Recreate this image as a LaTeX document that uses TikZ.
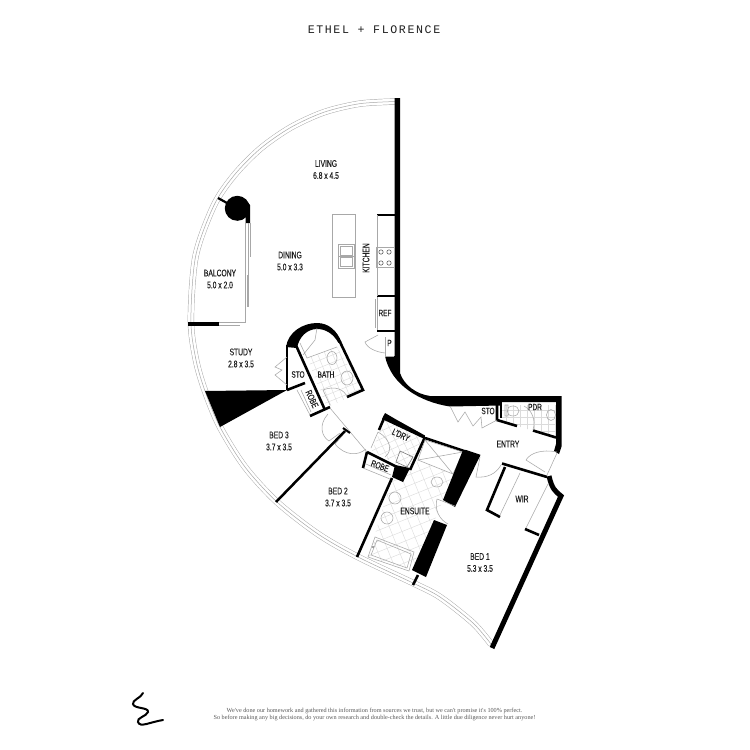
\documentclass[tikz,border=0pt]{standalone}
\usepackage{fontspec}
\setmainfont[FakeStretch=0.7,FakeBold=0.15]{Liberation Sans}
\newfontfamily\titlefont[LetterSpace=14]{Liberation Mono}
\newfontfamily\footfont{Liberation Serif}
\definecolor{fine}{gray}{0.66}
\definecolor{tile}{gray}{0.86}
\definecolor{inktext}{gray}{0.12}
\tikzset{
 wall/.style={draw=black,line width=2.6pt},
 solid wall/.style={fill=black,draw=none},
 fine line/.style={draw=fine,line width=0.55pt},
 tile line/.style={draw=tile,line width=0.4pt},
 room/.style={font=\fontsize{9.6}{12}\selectfont,text=inktext,align=center,inner sep=0pt},
 small room/.style={font=\fontsize{9.2}{11}\selectfont,text=inktext,align=center,inner sep=0pt},
}
\begin{document}
\begin{tikzpicture}[x=1pt,y=-1pt]
\useasboundingbox (0,0) rectangle (750,750);
\fill[white] (0,0) rectangle (750,750);

% tiled floors
\begin{scope}
\clip (392,478) -- (408,472) -- (418,460) -- (453,474) -- (443,500) -- (435,520) -- (412,570) -- (368,557) -- cycle;
\begin{scope}[shift={(400,500)},rotate=22]
\foreach \k in {-8,...,8} {\draw[tile line] (\k*10,-100) -- (\k*10,100); \draw[tile line] (-100,\k*10) -- (100,\k*10);}
\end{scope}
\end{scope}
\begin{scope}
\clip (307,358) -- (337,347) -- (363,390) -- (327,408) -- cycle;
\begin{scope}[shift={(320,360)},rotate=22]
\foreach \k in {-6,...,6} {\draw[tile line] (\k*7,-60) -- (\k*7,60); \draw[tile line] (-60,\k*7) -- (60,\k*7);}
\end{scope}
\end{scope}
\begin{scope}
\clip (501,405) -- (556,405) -- (556,437) -- (534,431) -- (517,426) -- (501,420) -- cycle;
\begin{scope}[shift={(520,410)},rotate=0]
\foreach \k in {-6,...,6} {\draw[tile line] (\k*7,-40) -- (\k*7,40); \draw[tile line] (-60,\k*7) -- (60,\k*7);}
\end{scope}
\end{scope}
\begin{scope}
\clip (385,418) -- (423,438) -- (408,470) -- (372,451) -- cycle;
\begin{scope}[shift={(395,440)},rotate=25]
\foreach \k in {-5,...,5} {\draw[tile line] (\k*7,-40) -- (\k*7,40); \draw[tile line] (-40,\k*7) -- (40,\k*7);}
\end{scope}
\end{scope}

% curved glazing
\def\glazing{(396,101.5) (359.6,103.7) (324,112.2) (290.6,127.5) (260.5,148.5) (234.7,174.6) (214.1,205) (195.6,256.3) (190.9,320.7) (196,360) (205,391) (220,427) (245,467) (277,502) (318,534) (358,557) (413,583) (440,597) (473,623) (491,644)}
\draw[fine,line width=6.4pt] plot[smooth,tension=0.5] coordinates {\glazing};
\draw[white,line width=5.5pt] plot[smooth,tension=0.5] coordinates {\glazing};
\draw[fine,line width=0.5pt] plot[smooth,tension=0.5] coordinates {\glazing};

% main outer wall
\path[solid wall] (394.5,98) -- (400,98) -- (400,373) .. controls (404,385) and (416,394) .. (430,396)
 -- (561.7,396) -- (561.7,446) -- (559,454) -- (554,451) -- (556,444) -- (556,402) -- (501,402) -- (501,405.5)
 -- (450,406.5) .. controls (420,402) and (391,385) .. (385,356) -- (394.5,356) -- cycle;
% study wedge
\path[solid wall] (205,391) -- (287,390) -- (220,427) -- cycle;
% column
\path[solid wall] (237.3,208.3) circle (12.5);
\path[solid wall] (245.5,200) -- (250,205) -- (250,223) -- (245.5,223) -- cycle;
\draw[black,line width=2.2pt] (218,198) -- (227,203);
% balcony
\draw[fine line] (245.7,223) -- (245.7,322) -- (219,322);
\draw[fine line] (219,325) -- (240,325);
\draw[fine line] (248,223) -- (248,307);
\draw[fine line] (250,223) -- (250,257);
\draw[fine,line width=1pt] (247,275) -- (247,307);
\draw[black,line width=3.4pt] (188,324) -- (219,324);
% kitchen
\draw[black,line width=2.5pt] (377,215) -- (395,215);
\draw[black,line width=2.5pt] (377,296) -- (395,296);
\draw[black,line width=2.5pt] (377,331) -- (395,331);
\draw[fine line] (377,215) -- (377,296);
\draw[fine line] (332,214) rectangle (355,297);
\draw[fine line] (338,244) rectangle (354,268);
\draw[fine line] (338,256) -- (354,256) (340,246) rectangle (352,255) (340,257) rectangle (352,266);
\draw[fine line] (376,247) rectangle (394,267);
\foreach \p in {(381,252),(389,252),(381,263),(389,263)} \draw[fine line,draw=black!65] \p circle (2.2);
\draw[fine line] (377,297) -- (377,330) (375,299) -- (375,328);
% P
\draw[fine line] (385,337) -- (385,356) -- (394,356);
\draw[fine line] (378,335) -- (365,342) .. controls (367,348) and (376,352) .. (385,353);
% bath capsule
\path[solid wall] (286,347) .. controls (288,332) and (303,323) .. (317,323) .. controls (329,323) and (337,331) .. (341.5,342)
 -- (338.5,343) .. controls (333,333) and (325,329) .. (317,329) .. controls (307,329) and (299,337) .. (297,348) -- cycle;
\draw[black,line width=2.6pt] (287,345) -- (287,390);
\draw[black,line width=2.6pt] (287,390) -- (305,383);
\draw[black,line width=2.6pt] (296.3,346) -- (325,410);
\draw[black,line width=2.6pt] (340,342) -- (363,390) -- (347,397);
\draw[black,line width=2.6pt] (310,416) -- (330,407);
\draw[fine line] (297,390) -- (310,415) (301,390) -- (311,412);
\draw[fine line] (287,357) -- (275,367) -- (282,370) -- (275,375) -- (287,385);
\draw[fine line] (300,343) -- (307,358) -- (337,347) (317,328) -- (315,340) -- (303,355);
\draw[fine line] (332,358) ellipse (5 and 6.5);
\draw[fine line] (347,378) ellipse (6 and 7);
\draw[fine line] (323,390) .. controls (335,385) and (345,390) .. (347,397) (323,390) -- (330,405);
% corridor thresholds and doors
\draw[fine line] (330,408) -- (367,452);
\draw[fine line] (328,414) .. controls (318,425) and (322,437) .. (329,441) -- (340,433);
\draw[fine line] (335,444) -- (343,435) (335,444) .. controls (345,456) and (358,456) .. (366,449);
\draw[black,line width=2.5pt] (345,431) -- (276,502);
\draw[black,line width=2pt] (343,428) -- (350,433);
\draw[fine line] (378,432) .. controls (392,440) and (392,452) .. (385,457) (378,432) -- (371,448);
% L'dry and robe
\path[solid wall] (385,413) -- (397,420) -- (425,435.5) -- (424.5,439) -- (382,419) -- cycle;
\draw[black,line width=2.6pt] (385,416) -- (379,430);
\draw[black,line width=2.6pt] (367,452) -- (397,467);
\draw[black,line width=2.6pt] (367,452) -- (363,468);
\draw[black,line width=2.6pt] (425,437) -- (410,470);
\draw[black,line width=2.6pt] (425,438) -- (467,452);
\draw[fine line] (363,468) -- (390,479) (366,464) -- (391,475);
\path[solid wall] (395,465) -- (410,468) -- (403,482) -- (392,477) -- cycle;
\draw[fine line,draw=black!55] (400,451) -- (413,457) -- (407,467) -- (396,462) -- cycle;
% ensuite
\draw[black,line width=2.6pt] (392,478) -- (357,557);
\draw[fine line] (425,440) -- (463,452) -- (453,474) -- (418,460) -- cycle;
\draw[fine line] (425,440) -- (453,474) (463,452) -- (418,460);
\path[solid wall] (463,450) -- (480,456) -- (455,507) -- (443,500) -- cycle;
\path[solid wall] (434,520) -- (447,525) -- (426,577) -- (412,570) -- cycle;
\draw[black,line width=2.5pt] (418,575) -- (413,585);
\draw[fine line] (437,499) -- (455,506) (437,499) .. controls (434,510) and (440,520) .. (448,524);
\draw[fine line] (437,482) ellipse (6 and 5);
\draw[fine line] (395,498) circle (6);
\draw[fine line] (387,518) circle (6);
\draw[fine line] (375,537) -- (414,552) -- (409,571) -- (368,557) -- cycle;
\draw[fine line] (377,540) -- (411,554) -- (407,568) -- (371,555) -- cycle;
\fill[black!70] (373,547) circle (0.8);
% entry wall, doors
\draw[black,line width=2.6pt] (480,456) -- (465,451);
\draw[black,line width=2.6pt] (502,463.5) -- (547,477);
\draw[fine line] (480,457) -- (476,477) .. controls (487,478) and (496,474) .. (501,465);
\draw[fine line] (526,460) -- (545,472) (557,453) -- (547,475);
\draw[fine line] (526,460) .. controls (530,453) and (542,449) .. (557,452);
\draw[black,line width=2.6pt] (497,405) -- (497,420) -- (517,426);
\draw[black,line width=2.6pt] (533,430.5) -- (556,437.5);
\draw[black,line width=2.6pt] (501,402) -- (501,418);
\draw[fine line] (450,406) -- (458,422) -- (465,412) -- (473,426) -- (481,417) -- (482,428) -- (497,420);
% PDR fittings
\draw[fine line] (513,411) ellipse (6 and 5) (505,405) rectangle (508,416);
\draw[fine line] (551,415) ellipse (4.5 and 5.5);
\draw[fine line] (524,406) .. controls (532,410) and (536,420) .. (533,430);
% WIR
\draw[black,line width=2.6pt] (505,467) -- (487,510) -- (500,517);
\draw[fine line] (520,473) -- (500,515) (548,484) -- (526,528);
\draw[black,line width=2.6pt] (525,529) -- (539,535);
% bedroom 1 wall
\draw[black,line width=5pt] (549,476) .. controls (552,489) and (555,491) .. (561,496) -- (492,648);

% squiggle
\draw[black,line width=2pt,line cap=round] (143,693) .. controls (141,698) and (132,700) .. (133,704) .. controls (134,709) and (149,707) .. (148,712) .. controls (147,716) and (136,718) .. (138,722) .. controls (140,728) and (150,722) .. (163,720);

% texts
\node[font=\titlefont\fontsize{11.6}{13}\selectfont,text=inktext,inner sep=0pt] (title) at (374,30) {ETHEL + FLORENCE};
\node[room] (living) at (326,169.5) {LIVING\\6.8 x 4.5};
\node[room] (dining) at (290,261) {DINING\\5.0 x 3.3};
\node[room] (balcony) at (220,279) {BALCONY\\5.0 x 2.0};
\node[room,rotate=90] (kitchen) at (366,258) {KITCHEN};
\node[small room] (ref) at (385,313) {REF};
\node[small room] (pantry) at (389.5,343) {P};
\node[room] (study) at (241,358) {STUDY\\2.8 x 3.5};
\node[small room] (sto1) at (298,374.5) {STO};
\node[small room] (bath) at (326,374.5) {BATH};
\node[small room,rotate=-65] (robe1) at (312,399) {ROBE};
\node[room] (bed3) at (279,441) {BED 3\\3.7 x 3.5};
\node[room] (bed2) at (338,497) {BED 2\\3.7 x 3.5};
\node[small room,rotate=-25] (ldry) at (401,435) {L'DRY};
\node[small room,rotate=-20] (robe2) at (380,466) {ROBE};
\node[small room] (sto2) at (488,411) {STO};
\node[small room] (pdr) at (535,407) {PDR};
\node[room] (entry) at (508,444) {ENTRY};
\node[room] (wir) at (522,499) {WIR};
\node[room] (ensuite) at (415,511) {ENSUITE};
\node[room] (bed1) at (480,562.5) {BED 1\\5.3 x 3.5};
\node[font=\footfont\fontsize{6.2}{7.2}\selectfont,text=black!65,align=center,inner sep=0pt] (note) at (374.5,714.5) {We've done our homework and gathered this information from sources we trust, but we can't promise it's 100\% perfect.\\So before making any big decisions, do your own research and double-check the details. A little due diligence never hurt anyone!};
\end{tikzpicture}
\end{document}
